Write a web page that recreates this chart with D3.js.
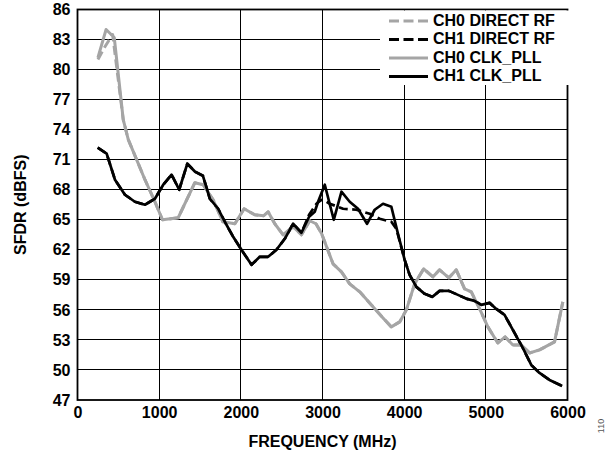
<!DOCTYPE html>
<html>
<head>
<meta charset="utf-8">
<script src="https://cdn.jsdelivr.net/npm/d3@7/dist/d3.min.js"></script>
<style>
  html, body { margin: 0; padding: 0; background: #fff; }
  svg { display: block; }
  text { font-family: "Liberation Sans", Arial, sans-serif; }
</style>
</head>
<body>
<svg id="chart" width="616" height="454"></svg>
<script>
// ---- data ----
const xTicks = [0, 1000, 2000, 3000, 4000, 5000, 6000];
const yTicks = [47, 50, 53, 56, 59, 62, 65, 68, 71, 74, 77, 80, 83, 86];

const ch0PllFreq = [250, 350, 450, 560, 622, 724, 826, 948, 1040, 1233, 1437, 1539, 1661, 1780, 1927, 2040, 2170, 2280, 2334, 2416, 2518, 2640, 2742, 2844, 2920, 2990, 3050, 3129, 3232, 3333, 3456, 3599, 3741, 3843, 3945, 4027, 4128, 4239, 4352, 4434, 4548, 4638, 4740, 4822, 4924, 5025, 5147, 5237, 5331, 5433, 5535, 5657, 5841, 5943];
const ch0PllSfdr = [81.2, 84.0, 83.2, 75.0, 73.0, 71.0, 69.0, 66.8, 65.0, 65.2, 68.7, 68.5, 67.0, 64.8, 64.6, 66.1, 65.5, 65.4, 65.8, 64.6, 63.5, 64.3, 63.5, 64.9, 64.6, 63.6, 62.3, 60.6, 59.8, 58.6, 57.8, 56.5, 55.2, 54.3, 54.8, 56.0, 58.6, 60.1, 59.3, 60.0, 59.2, 60.0, 58.1, 57.8, 56.1, 54.3, 52.7, 53.3, 52.5, 52.5, 51.7, 52.0, 52.8, 56.8];

const ch0RfFreq = [250, 330, 430, 560, 622, 724, 826, 948, 1040, 1233, 1437, 1539, 1661, 1780, 1927, 2040, 2170, 2280, 2334, 2416, 2518, 2640, 2742, 2844, 2920, 2990, 3050, 3129, 3232, 3333, 3456, 3599, 3741, 3843, 3945, 4027, 4128, 4239, 4352, 4434, 4548, 4638, 4740, 4822, 4924, 5025, 5147, 5237, 5331, 5433, 5535, 5657, 5841, 5943];
const ch0RfSfdr = [81.0, 82.2, 83.5, 75.0, 73.0, 71.0, 69.0, 66.8, 65.0, 65.2, 68.7, 68.5, 67.0, 64.8, 64.6, 66.1, 65.5, 65.4, 65.8, 64.6, 63.5, 64.3, 63.5, 64.9, 64.6, 63.6, 62.3, 60.6, 59.8, 58.6, 57.8, 56.5, 55.2, 54.3, 54.8, 56.0, 58.6, 60.1, 59.3, 60.0, 59.2, 60.0, 58.1, 57.8, 56.1, 54.3, 52.7, 53.3, 52.5, 52.5, 51.7, 52.0, 52.8, 56.8];

const ch1PllFreq = [247, 357, 459, 581, 703, 826, 948, 1050, 1152, 1245, 1345, 1440, 1535, 1621, 1722, 1804, 1906, 2008, 2131, 2232, 2334, 2436, 2538, 2640, 2742, 2836, 2905, 2946, 3028, 3138, 3232, 3333, 3435, 3545, 3639, 3741, 3843, 3924, 4006, 4067, 4149, 4251, 4345, 4434, 4548, 4658, 4768, 4862, 4944, 5046, 5128, 5229, 5331, 5453, 5556, 5657, 5780, 5935];
const ch1PllSfdr = [72.2, 71.6, 69.0, 67.5, 66.8, 66.5, 67.1, 68.5, 69.5, 68.0, 70.6, 69.8, 69.4, 67.1, 66.1, 64.8, 63.3, 62.0, 60.5, 61.3, 61.3, 62.0, 63.1, 64.6, 63.7, 65.3, 65.8, 66.8, 68.5, 65.0, 67.8, 66.8, 66.1, 64.6, 66.0, 66.6, 66.3, 63.6, 61.0, 59.5, 58.3, 57.6, 57.3, 57.9, 57.9, 57.5, 57.1, 56.9, 56.5, 56.7, 56.1, 55.5, 54.0, 52.2, 50.5, 49.7, 49.0, 48.4];

const ch1RfFreq = [247, 357, 459, 581, 703, 826, 948, 1050, 1152, 1245, 1345, 1440, 1535, 1621, 1722, 1804, 1906, 2008, 2131, 2232, 2334, 2436, 2538, 2640, 2742, 2836, 2926, 2987, 3048, 3089, 3252, 3415, 3578, 3700, 3843, 3904, 4006, 4067, 4149, 4251, 4345, 4434, 4548, 4658, 4768, 4862, 4944, 5046, 5128, 5229, 5331, 5453, 5556, 5657, 5780, 5935];
const ch1RfSfdr = [72.2, 71.6, 69.0, 67.5, 66.8, 66.5, 67.1, 68.5, 69.5, 68.0, 70.6, 69.8, 69.4, 67.1, 66.1, 64.8, 63.3, 62.0, 60.5, 61.3, 61.3, 62.0, 63.1, 64.6, 63.7, 65.5, 66.6, 67.0, 66.8, 66.6, 66.1, 66.0, 65.6, 65.1, 64.8, 64.1, 61.0, 59.5, 58.3, 57.6, 57.3, 57.9, 57.9, 57.5, 57.1, 56.9, 56.5, 56.7, 56.1, 55.5, 54.0, 52.2, 50.5, 49.7, 49.0, 48.4];

const seriesNames = ["CH0 DIRECT RF", "CH1 DIRECT RF", "CH0 CLK_PLL", "CH1 CLK_PLL"];

// ---- layout ----
const L = 77.5, R = 567.5, T = 9.5, B = 400;
const GREY = "#a5a5a5";
const styles = [
  { color: GREY, width: 3, dash: "9,4.5" },
  { color: "#000", width: 2.7, dash: "9,4.5" },
  { color: GREY, width: 3, dash: null },
  { color: "#000", width: 2.7, dash: null }
];
const seriesData = [
  d3.zip(ch0RfFreq, ch0RfSfdr),
  d3.zip(ch1RfFreq, ch1RfSfdr),
  d3.zip(ch0PllFreq, ch0PllSfdr),
  d3.zip(ch1PllFreq, ch1PllSfdr)
];

const svg = d3.select("#chart");
const x = d3.scaleLinear().domain([0, 6000]).range([L, R]);
const y = d3.scaleLinear().domain([47, 86]).range([B, T]);

// grid
const grid = svg.append("g").attr("stroke", "#000").attr("stroke-width", 1).attr("shape-rendering", "crispEdges");
grid.selectAll("line.v").data(xTicks.slice(1, -1)).join("line")
  .attr("x1", d => x(d)).attr("x2", d => x(d)).attr("y1", T).attr("y2", B);
grid.selectAll("line.h").data(yTicks.slice(1, -1)).join("line")
  .attr("x1", L).attr("x2", R).attr("y1", d => y(d)).attr("y2", d => y(d));

// lines
const line = d3.line().x(d => x(d[0])).y(d => y(d[1]));
svg.append("g").selectAll("path").data(seriesData).join("path")
  .attr("d", line)
  .attr("fill", "none")
  .attr("stroke", (d, i) => styles[i].color)
  .attr("stroke-width", (d, i) => styles[i].width)
  .attr("stroke-dasharray", (d, i) => styles[i].dash)
  .attr("stroke-linejoin", "round");

// frame
svg.append("rect").attr("x", L).attr("y", T).attr("width", R - L).attr("height", B - T)
  .attr("fill", "none").attr("stroke", "#000").attr("stroke-width", 1.8);

// axes
const xAxis = svg.append("g").attr("transform", `translate(0,${B})`)
  .call(d3.axisBottom(x).tickValues(xTicks).tickSize(0).tickPadding(6.6).tickFormat(d3.format("d")));
const yAxis = svg.append("g").attr("transform", `translate(${L},0)`)
  .call(d3.axisLeft(y).tickValues(yTicks).tickSize(0).tickPadding(7).tickFormat(d3.format("d")));
[xAxis, yAxis].forEach(a => {
  a.select(".domain").remove();
  a.selectAll("text").attr("font-family", "'Liberation Sans', Arial, sans-serif")
    .attr("font-size", 16).attr("font-weight", "bold").attr("fill", "#000");
});

// titles
svg.append("text").attr("x", (L + R) / 2).attr("y", 447).attr("text-anchor", "middle")
  .attr("font-size", 16).attr("font-weight", "bold").text("FREQUENCY (MHz)");
svg.append("text").attr("transform", `translate(25.5,${(T + B) / 2}) rotate(-90)`)
  .attr("text-anchor", "middle").attr("font-size", 16).attr("font-weight", "bold").text("SFDR (dBFS)");
svg.append("text").attr("transform", "translate(604,426) rotate(-90)")
  .attr("text-anchor", "middle").attr("font-size", 9).attr("fill", "#555").text("110");

// legend
const lg = svg.append("g");
lg.append("rect").attr("x", 380).attr("y", T + 1).attr("width", R - 380 + 1.5).attr("height", 85 - T - 1).attr("fill", "#fff");
const rowsY = [25.5, 44, 62.5, 81];
seriesNames.forEach((name, i) => {
  lg.append("line").attr("x1", 389).attr("x2", 428).attr("y1", rowsY[i] - 4.5).attr("y2", rowsY[i] - 4.5)
    .attr("stroke", styles[i].color).attr("stroke-width", 3)
    .attr("stroke-dasharray", styles[i].dash ? "10,4.5" : null);
  lg.append("text").attr("x", 433).attr("y", rowsY[i]).attr("font-size", 16).attr("font-weight", "bold").text(name);
});
</script>
</body>
</html>
